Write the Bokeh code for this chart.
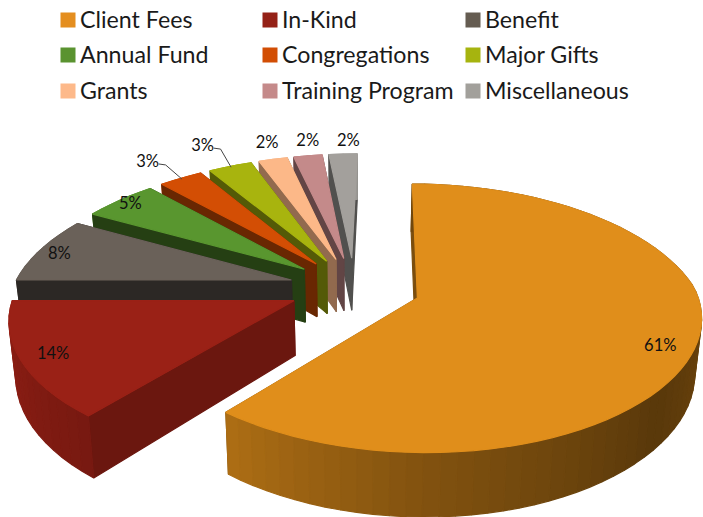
import numpy as np
from bokeh.plotting import figure
from bokeh.models import ColumnDataSource, Range1d
from bokeh.core.properties import value
from bokeh.embed import file_html
from bokeh.resources import INLINE

# --- data
categories = ["Client Fees", "In-Kind", "Benefit", "Annual Fund", "Congregations",
              "Major Gifts", "Grants", "Training Program", "Miscellaneous"]
percents = [61, 14, 8, 5, 3, 3, 2, 2, 2]

# --- styles
colors = ["#E08E1B", "#9A2116", "#6A6159", "#59962F", "#D34E04",
          "#A8B40E", "#FCB888", "#C48A8A", "#A3A09C"]
legend_colors = ["#E48E1F", "#952117", "#655C51", "#5A9330", "#D24E04",
                 "#A6B40F", "#FDB98A", "#C58A8A", "#A2A09B"]
edge_shade = [0.55, 0.70, 0.42, 0.42, 0.50, 0.50, 0.58, 0.50, 0.50]
label_radius = [0.875, 0.875, 0.905, 0.92, 1.215, 1.25, 1.18, 1.17, 1.155]
label_shift = [3, 0, 0, 2, 1, 1, 3, 3, 3]

# --- projection of the tilted pie
CX, CY, RX, RY, K, EXPLODE, HEIGHT = 354, 287, 278, 128, 0.15, 0.238, 54
KX_FAR, KX_NEAR, LEAN, CONVERGE = 0.185, 0.125, 5.0, 0.02
LEG_X = [60, 262, 465]
LEG_Y = [19.5, 54.5, 90.5]


def project(X, D, z=0.0):
    D = np.asarray(D, dtype=float)
    X = np.asarray(X, dtype=float)
    s = 1.0 / (1.0 + K * D)
    sx = 1.0 / (1.0 + np.where(D > 0, KX_FAR, KX_NEAR) * D)
    px = RX * X * sx + LEAN * np.maximum(D, 0)
    px = px * (1 - CONVERGE * np.asarray(z, dtype=float))
    return CX + px, CY - RY * D * s + HEIGHT * np.asarray(z, dtype=float) * s


def label_xy(X, D):
    s = 1.0 / (1.0 + K * D)
    return CX + RX * X * s, CY - RY * D * s


def shade(c, f):
    r, g, b = (int(c[i:i + 2], 16) for i in (1, 3, 5))
    return "#%02x%02x%02x" % (int(r * f), int(g * f), int(b * f))


arc_angle = [90, 130, 180, 220, 270, 360]
arc_light = [0.50, 0.40, 0.58, 0.78, 0.95, 0.95]

edges = np.cumsum([0] + percents) * 3.6
mids = (edges[:-1] + edges[1:]) / 2

xs, ys, fills = [], [], []


def add(px, py, col):
    xs.append(list(map(float, px)))
    ys.append(list(map(float, py)))
    fills.append(col)


def offset(i):
    m = np.radians(mids[i])
    return EXPLODE * np.sin(m), EXPLODE * np.cos(m)


for i in range(len(percents) - 1, -1, -1):
    ox, oy = offset(i)
    a0, a1 = edges[i], edges[i + 1]
    th = np.radians(np.linspace(a0, a1, max(3, int((a1 - a0) / 3) + 1)))
    ax, ay = ox + np.sin(th), oy + np.cos(th)
    walls = []
    for t in (th[0], th[-1]):
        ex, ey = ox + np.sin(t), oy + np.cos(t)
        wx = [ox, ex, ex, ox]
        wy = [oy, ey, ey, oy]
        px, py = project(wx, wy, np.array([0, 0, 1, 1]))
        walls.append((max(wy), px, py, shade(colors[i], edge_shade[i])))
    for j in range(len(th) - 1):
        wx = [ax[j], ax[j + 1], ax[j + 1], ax[j]]
        wy = [ay[j], ay[j + 1], ay[j + 1], ay[j]]
        px, py = project(wx, wy, np.array([0, 0, 1, 1]))
        a = np.degrees((th[j] + th[j + 1]) / 2)
        f = float(np.interp(a, arc_angle, arc_light))
        walls.append((np.mean(wy), px, py, shade(colors[i], f)))
    # far walls first, near walls last
    for _, px, py, col in sorted(walls, key=lambda w: -w[0]):
        add(px, py, col)
    px, py = project(np.r_[ox, ax], np.r_[oy, ay])
    add(px, py, colors[i])

# --- figure in page pixels
p = figure(width=703, height=517, x_range=Range1d(0, 703), y_range=Range1d(517, 0),
           output_backend="svg", toolbar_location=None, min_border=0)
p.axis.visible = False
p.grid.visible = False
p.outline_line_color = None
p.background_fill_color = "white"

p.patches("xs", "ys", source=ColumnDataSource(dict(xs=xs, ys=ys, c=fills)),
          fill_color="c", line_color="c", line_width=1.2)

# --- data labels and leader lines
lab_x, lab_y, lab_t = [], [], []
for i, pct in enumerate(percents):
    ox, oy = offset(i)
    a = np.radians(mids[i] + label_shift[i])
    lx, ly = label_xy(ox + label_radius[i] * np.sin(a), oy + label_radius[i] * np.cos(a))
    lab_x.append(float(lx)); lab_y.append(float(ly)); lab_t.append(f"{pct}%")
p.text(lab_x, lab_y, text=lab_t, text_font=value("Lato"), text_font_size="16.5px",
       text_align="center", text_baseline="middle", text_color="#111111")

lead_x, lead_y = [], []
for i in (4, 5):
    ox, oy = offset(i)
    a = np.radians(mids[i])
    ex, ey = project(ox + 0.99 * np.sin(a), oy + 0.99 * np.cos(a))
    lead_x.append([lab_x[i] + 11, lab_x[i] + 18, float(ex)])
    lead_y.append([lab_y[i] + 3, lab_y[i] + 4, float(ey)])
p.multi_line(lead_x, lead_y, line_color="#444444", line_width=1)

# --- legend
leg_x = [LEG_X[i % 3] for i in range(9)]
leg_y = [LEG_Y[i // 3] for i in range(9)]
p.rect(x=[v + 7.5 for v in leg_x], y=leg_y, width=15, height=15, fill_color=legend_colors,
       line_color=None, width_units="screen", height_units="screen")
p.text([v + 19.5 for v in leg_x], [v - 1 for v in leg_y], text=categories, text_font=value("Lato"),
       text_font_size="23.2px", text_align="left", text_baseline="middle", text_color="#1a1a1a")

open("out.html", "w").write(file_html(p, INLINE))
